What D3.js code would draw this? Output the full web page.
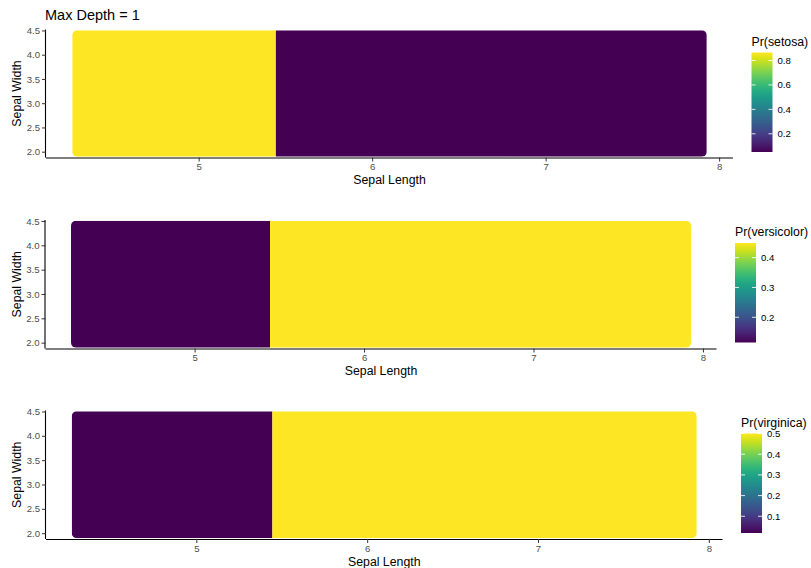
<!DOCTYPE html>
<html>
<head>
<meta charset="utf-8">
<script src="https://cdn.jsdelivr.net/npm/d3@7"></script>
<style>
  body { margin: 0; background: #fff; }
  svg { display: block; font-family: "Liberation Sans", Arial, sans-serif; }
</style>
</head>
<body>
<div id="chart"></div>
<script>
// ========================
// Data
// ========================
const species = ["setosa", "versicolor", "virginica"];
const probLeft = [0.8654, 0.1154, 0.0192];   // Sepal Length below split
const probRight = [0.0510, 0.4490, 0.5000];  // Sepal Length above split
const splitX = 5.445;
const gridX = [4.3, 7.9];
const gridY = [2.0, 4.4];
const xTicks = [5, 6, 7, 8];
const yTicks = [2.0, 2.5, 3.0, 3.5, 4.0, 4.5];
const legendTicks = [
    [0.2, 0.4, 0.6, 0.8],
    [0.2, 0.3, 0.4],
    [0.1, 0.2, 0.3, 0.4, 0.5]
];

// ========================
// Layout
// ========================
const width = 811, height = 568;
const panels = [
    { left: 46, right: 733, top: 29.5, bottom: 157.5 },
    { left: 45.5, right: 716.5, top: 220, bottom: 348.5 },
    { left: 46, right: 722.5, top: 410.5, bottom: 539 }
];
const pointR = 5;   // radius of the prediction-grid points

const svg = d3.select("#chart")
    .append("svg")
    .attr("width", width)
    .attr("height", height);

const defs = svg.append("defs");

// expand like ggplot (5% each side)
const pad = (ext) => {
    const e = (ext[1] - ext[0]) * 0.05;
    return [ext[0] - e, ext[1] + e];
};

svg.append("text")
    .attr("x", 45)
    .attr("y", 19.5)
    .style("font-size", "14.5px")
    .attr("fill", "#000")
    .text("Max Depth = 1");

species.forEach((sp, i) => {
    const p = panels[i];
    const g = svg.append("g");

    const x = d3.scaleLinear().domain(pad(gridX)).range([p.left, p.right]);
    const y = d3.scaleLinear().domain(pad(gridY)).range([p.bottom, p.top]);

    const lo = Math.min(probLeft[i], probRight[i]);
    const hi = Math.max(probLeft[i], probRight[i]);
    const color = d3.scaleSequential(d3.interpolateViridis).domain([lo, hi]);

    // --- prediction regions (clipped to the rounded grid outline) ---
    const x0 = x(gridX[0]) - pointR, x1 = x(gridX[1]) + pointR;
    const y0 = y(gridY[1]) - pointR, y1 = y(gridY[0]) + pointR;

    defs.append("clipPath")
        .attr("id", "clip" + i)
        .append("rect")
        .attr("x", x0).attr("y", y0)
        .attr("width", x1 - x0).attr("height", y1 - y0)
        .attr("rx", pointR).attr("ry", pointR);

    const regions = [
        { from: x0, to: x(splitX), value: probLeft[i] },
        { from: x(splitX), to: x1, value: probRight[i] }
    ];

    g.append("g")
        .attr("clip-path", `url(#clip${i})`)
        .selectAll("rect")
        .data(regions)
        .enter()
        .append("rect")
        .attr("x", d => d.from)
        .attr("y", y0)
        .attr("width", d => d.to - d.from)
        .attr("height", y1 - y0)
        .attr("fill", d => color(d.value));

    // --- axes ---
    const xAxis = g.append("g")
        .attr("transform", `translate(0,${p.bottom})`)
        .call(d3.axisBottom(x).tickValues(xTicks).tickSize(4).tickPadding(2).tickFormat(d3.format("d")));
    const yAxis = g.append("g")
        .attr("transform", `translate(${p.left},0)`)
        .call(d3.axisLeft(y).tickValues(yTicks).tickSize(4).tickPadding(2).tickFormat(d3.format(".1f")));

    [xAxis, yAxis].forEach(a => {
        a.select(".domain").attr("stroke", "#000").attr("stroke-width", 1.1);
        a.selectAll(".tick line").attr("stroke", "#333");
        a.selectAll(".tick text")
            .attr("fill", "#4d4d4d")
            .style("font-size", "9.6px")
            .style("font-family", "'Liberation Sans', Arial, sans-serif");
    });
    // ggplot axis lines span the whole panel
    xAxis.select(".domain").attr("d", `M${p.left},0.5H${p.right}`);
    yAxis.select(".domain").attr("d", `M-0.5,${p.top}V${p.bottom}`);

    g.append("text")
        .attr("x", (p.left + p.right) / 2)
        .attr("y", p.bottom + 26.5)
        .attr("text-anchor", "middle")
        .style("font-size", "12.3px")
        .text("Sepal Length");

    g.append("text")
        .attr("transform", `translate(20.5,${(p.top + p.bottom) / 2}) rotate(-90)`)
        .attr("text-anchor", "middle")
        .style("font-size", "12.3px")
        .text("Sepal Width");

    // --- colour bar legend ---
    const lx = p.right + 18.5;
    const barTop = p.top + 23;
    const barH = 99.5, barW = 21;

    g.append("text")
        .attr("x", lx)
        .attr("y", barTop - 7)
        .style("font-size", "12.3px")
        .text(`Pr(${sp})`);

    const grad = defs.append("linearGradient")
        .attr("id", "grad" + i)
        .attr("x1", 0).attr("y1", 1).attr("x2", 0).attr("y2", 0);
    d3.range(0, 1.0001, 0.05).forEach(t => {
        grad.append("stop")
            .attr("offset", t)
            .attr("stop-color", d3.interpolateViridis(t));
    });

    g.append("rect")
        .attr("x", lx).attr("y", barTop)
        .attr("width", barW).attr("height", barH)
        .attr("fill", `url(#grad${i})`);

    const ly = d3.scaleLinear().domain([lo, hi]).range([barTop + barH, barTop]);

    const lt = g.append("g").selectAll("g")
        .data(legendTicks[i])
        .enter()
        .append("g")
        .attr("transform", d => `translate(0,${ly(d)})`);

    lt.append("line")
        .attr("x1", lx).attr("x2", lx + 4)
        .attr("stroke", "#fff").attr("stroke-opacity", 0.85);
    lt.append("line")
        .attr("x1", lx + barW - 4).attr("x2", lx + barW)
        .attr("stroke", "#fff").attr("stroke-opacity", 0.85);
    lt.append("text")
        .attr("x", lx + barW + 5)
        .attr("dy", "0.35em")
        .attr("fill", "#000")
        .style("font-size", "9.6px")
        .text(d => d3.format(".1f")(d));
});
</script>
</body>
</html>
